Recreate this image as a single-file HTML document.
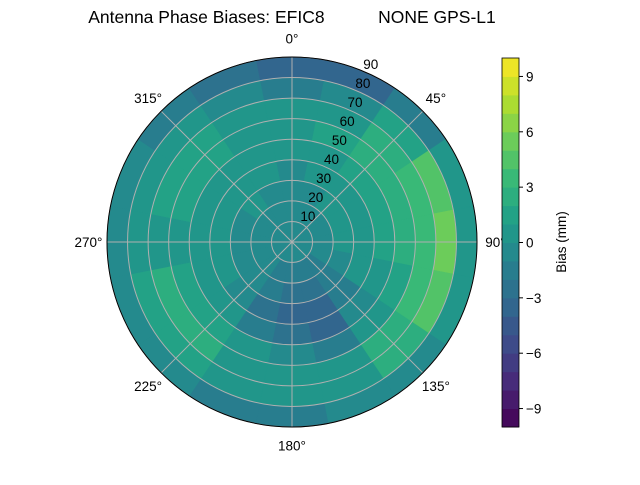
<!DOCTYPE html>
<html><head><meta charset="utf-8"><style>
body{margin:0;background:#fff;}
svg text{font-family:"Liberation Sans",sans-serif;font-size:13.5px;fill:#000;}
svg text.title{font-size:17.5px;}
</style></head><body>
<svg id="chart" width="640" height="480" viewBox="0 0 640 480" xmlns="http://www.w3.org/2000/svg">
<text class="title" x="292" y="23" text-anchor="middle" xml:space="preserve">Antenna Phase Biases: EFIC8           NONE GPS-L1</text>
<g id="cells"></g>
<g id="grid"></g>
<g id="cbar"></g>
<text transform="translate(566,242) rotate(-90)" text-anchor="middle">Bias (mm)</text>
</svg>
<script>
const azimuths=[0,22.5,45,67.5,90,112.5,135,157.5,180,202.5,225,247.5,270,292.5,315,337.5];
const zenithEdges=[0,10,20,30,40,50,60,70,80,90];
const biasRows=[
[-0.5,-0.5,-0.5,-0.5,0,0.5,0,-2,-4],
[-0.5,-0.5,-0.5,0,0.5,1,0.5,-1,-4],
[-0.5,-0.5,0,0.5,1,2,2.5,1.5,-1.5],
[-0.5,-0.5,0,0.5,1,2,3,4,0],
[-0.5,-0.5,0,0.5,1,2,3.5,5,0.5],
[-0.5,-0.5,-0.5,0,0.5,1.5,3,4,0],
[-1,-1.5,-1.5,-2,-1,0.5,2,2,-0.5],
[-1,-1.5,-2.5,-3.5,-3.5,-2,0,0.5,-0.5],
[-1,-1.5,-2.5,-3.5,-3,-1,0,0,-1.5],
[-1,-1.5,-1.5,-2.5,-2,0,0.5,0.5,-1.5],
[-0.5,-0.5,-1,-1,0,1.5,2.5,1.5,-1],
[-0.5,-0.5,-0.5,0,0.5,1.5,2.5,1.5,-0.5],
[-0.5,-0.5,-0.5,0,0.5,0.5,0.5,0.5,-0.5],
[-0.5,-0.5,-0.5,0,0.5,1.5,1.5,0.5,-1],
[-0.5,-0.5,0,0.5,0.5,1.5,1.5,0.5,-2],
[-0.5,-0.5,-0.5,0,0.5,0.5,0.5,-1,-3]];
const angleLabels=[0,45,90,135,180,225,270,315];
const radialTicks=[10,20,30,40,50,60,70,80,90];
const cbarTicks=[-9,-6,-3,0,3,6,9];
const vmin=-10,vmax=10;
const cx=292,cy=242,R=185;
const NS="http://www.w3.org/2000/svg";
const rScale=z=>z/90*R;
const pt=(az,z)=>{const a=az*Math.PI/180,r=rScale(z);return [cx+r*Math.sin(a),cy-r*Math.cos(a)];};
const vir=[[68,1,84],[72,40,120],[62,74,137],[49,104,142],[38,130,142],[31,158,137],[53,183,121],[109,205,89],[180,222,44],[253,231,37]];
function color(v){let b=Math.floor(v-vmin);b=Math.max(0,Math.min(19,b));let t=(b+0.5)/20*9;let i=Math.min(8,Math.floor(t)),f=t-i;
const c=vir[i].map((x,k)=>Math.round(x+(vir[i+1][k]-x)*f));return `rgb(${c})`;}
function el(tag,attrs,parent){const e=document.createElementNS(NS,tag);for(const k in attrs)e.setAttribute(k,attrs[k]);parent.appendChild(e);return e;}
const cells=document.getElementById('cells');
const step=360/azimuths.length;
azimuths.forEach((az,i)=>{for(let j=0;j<zenithEdges.length-1;j++){
 const v=biasRows[i][j],a0=az-step/2,a1=az+step/2,z0=zenithEdges[j],z1=zenithEdges[j+1];
 const p1=pt(a0,z1),p2=pt(a1,z1),p3=pt(a1,z0),p4=pt(a0,z0);const r1=rScale(z1),r0=rScale(z0);
 const d=`M${p1}A${r1},${r1} 0 0 1 ${p2}L${p3}`+(r0>0?`A${r0},${r0} 0 0 0 ${p4}`:'')+'Z';
 const p=el('path',{d:d,fill:color(v),stroke:color(v),'stroke-width':0.6},cells);
 
 
}});
const grid=document.getElementById('grid');
radialTicks.forEach(t=>{const c=el('circle',{cx:cx,cy:cy,r:rScale(t),fill:'none',stroke:'#b0b0b0','stroke-width':1},grid);
 
 const p=pt(22.5,t);const tx=el('text',{x:p[0]+8,y:p[1]-2,'text-anchor':'middle'},grid);tx.textContent=t;
 });
angleLabels.forEach(a=>{const p=pt(a,90);const l=el('line',{x1:cx,y1:cy,x2:p[0],y2:p[1],stroke:'#b0b0b0','stroke-width':1},grid);
 
 const q=pt(a,90*1.1);const tx=el('text',{x:q[0],y:q[1]+5,'text-anchor':'middle'},grid);tx.textContent=a+'°';
 });
const oc=el('circle',{cx:cx,cy:cy,r:R,fill:'none',stroke:'#000','stroke-width':1},grid);

const cb=document.getElementById('cbar');const cbx=502,cbw=17,cbt=58,cbb=427;
const yS=v=>cbb-(v-vmin)/(vmax-vmin)*(cbb-cbt);
for(let v=vmin;v<vmax;v++){const r=el('rect',{x:cbx,y:yS(v+1),width:cbw,height:yS(v)-yS(v+1)+0.5,fill:color(v+0.5)},cb);
 }
const fr=el('rect',{x:cbx,y:cbt,width:cbw,height:cbb-cbt,fill:'none',stroke:'#000','stroke-width':0.8},cb);

cbarTicks.forEach(t=>{const y=yS(t);const l=el('line',{x1:cbx+cbw,x2:cbx+cbw+4,y1:y,y2:y,stroke:'#000'},cb);
 
 const tx=el('text',{x:cbx+cbw+7,y:y+5},cb);tx.textContent=t<0?'−'+(-t):t;
 });
</script>
</body></html>
